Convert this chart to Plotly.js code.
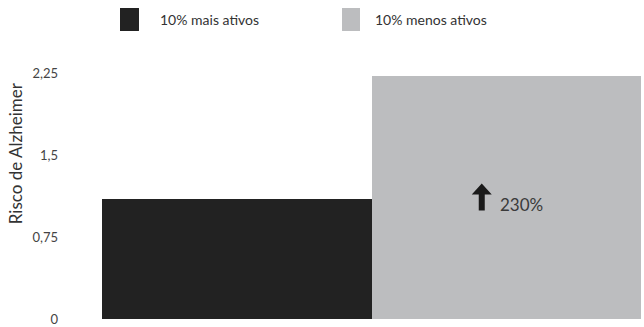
<!DOCTYPE html>
<html>
<head>
<meta charset="utf-8">
<script src="https://cdn.plot.ly/plotly-3.0.1.min.js"></script>
<style>html,body{margin:0;padding:0;background:#fff;}#chart{width:644px;height:327px;}</style>
</head>
<body>
<div id="chart"></div>
<script>
var categories = ["10% mais ativos", "10% menos ativos"];
var risk = [1.10, 2.225];
var colors = ["#222222", "#bcbdbf"];
var tickValues = [0, 0.75, 1.5, 2.25];
var tickLabels = ["0", "0,75", "1,5", "2,25"];
var yTitle = "Risco de Alzheimer";
var increaseLabel = "230%";

var FONT = "Lato, 'Noto Sans', sans-serif";

var trace = {
  type: "bar",
  x: categories,
  y: risk,
  marker: {color: colors, line: {width: 0}},
  hoverinfo: "skip",
  showlegend: false
};

var legendSwatches = [
  {x0: 0.0334, x1: 0.0686},
  {x0: 0.4453, x1: 0.4787}
];
var legendTextX = [0.1039, 0.5028];

var shapes = [];
var annotations = [];
categories.forEach(function (c, i) {
  shapes.push({
    type: "rect", xref: "paper", yref: "paper",
    x0: legendSwatches[i].x0, x1: legendSwatches[i].x1,
    y0: 1.091, y1: 1.178,
    fillcolor: colors[i], line: {width: 0}
  });
  annotations.push({
    xref: "paper", yref: "paper", x: legendTextX[i], y: 1.1326,
    xanchor: "left", yanchor: "middle", showarrow: false,
    text: c, font: {family: FONT, size: 14, color: "#333333"}
  });
});

// arrow next to the percentage, anchored on the second bar at half its height
shapes.push({
  type: "path", xref: "x", yref: "y",
  xsizemode: "pixel", ysizemode: "pixel",
  xanchor: categories[1], yanchor: risk[1] / 2,
  path: "M -27.5 -13 L -21.5 -13 L -21.5 3 L -14.5 3 L -24.5 14 L -34.5 3 L -27.5 3 Z",
  fillcolor: "#1a1a1a", line: {width: 0}
});
annotations.push({
  xref: "x", yref: "y", x: categories[1], y: risk[1] / 2,
  xshift: 15, yshift: -7, showarrow: false,
  text: increaseLabel, font: {family: FONT, size: 17, color: "#3a3a3a"}
});

annotations.push({
  xref: "paper", yref: "paper", x: -0.1614, y: 0.628,
  xanchor: "center", yanchor: "middle", textangle: -90, showarrow: false,
  text: yTitle, font: {family: FONT, size: 17, color: "#333333"}
});

var layout = {
  width: 644, height: 327,
  margin: {l: 102, r: 3, t: 55, b: 8},
  paper_bgcolor: "#ffffff", plot_bgcolor: "#ffffff",
  bargap: 0,
  font: {family: FONT, size: 13, color: "#444444"},
  xaxis: {
    type: "category", range: [-0.5, 1.5],
    showticklabels: false, showgrid: false, zeroline: false, showline: false, ticks: ""
  },
  yaxis: {
    range: [0, 2.415],
    tickvals: tickValues, ticktext: tickLabels,
    showgrid: false, zeroline: false, showline: false, ticks: "",
    ticklabelstandoff: 43,
    ticklabeloverflow: "allow",
    tickfont: {family: FONT, size: 13, color: "#444444"}
  },
  shapes: shapes,
  annotations: annotations
};

Plotly.newPlot("chart", [trace], layout, {displayModeBar: false, staticPlot: true});
</script>
</body>
</html>
